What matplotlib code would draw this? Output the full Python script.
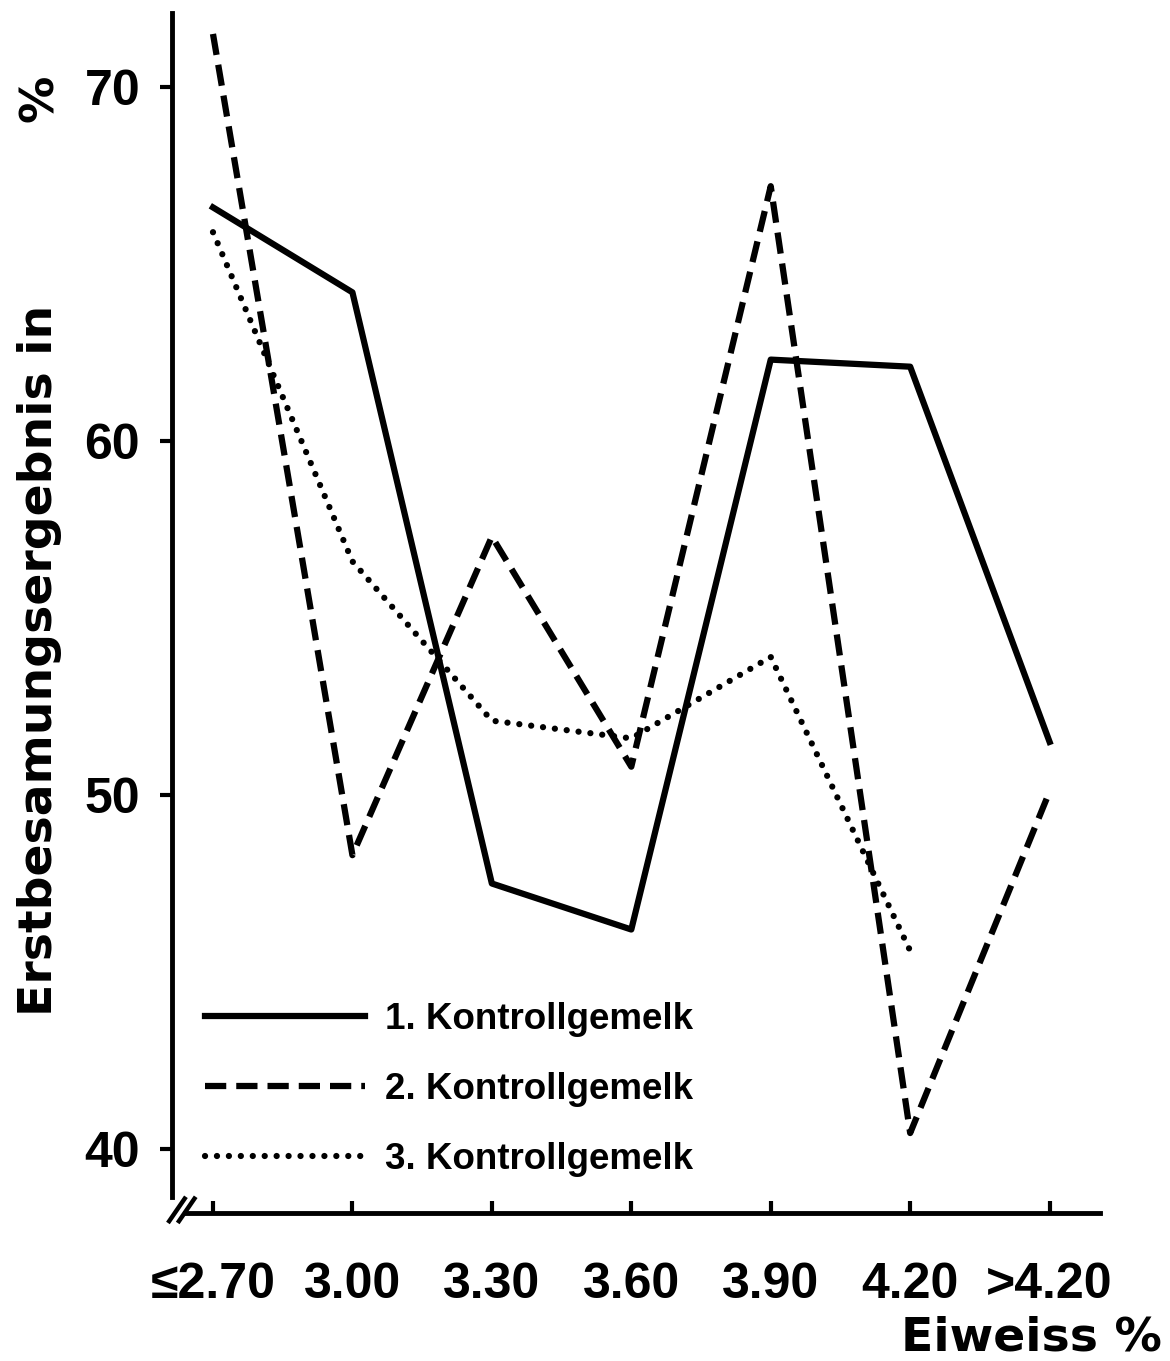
import matplotlib
matplotlib.use('Agg')
import matplotlib.pyplot as plt
from matplotlib.lines import Line2D

# Eiweiss classes and first-insemination results (%)
categories = ['≤2.70', '3.00', '3.30', '3.60', '3.90', '4.20', '>4.20']
kontroll_1 = [66.6, 64.2, 47.5, 46.2, 62.3, 62.1, 51.5]
kontroll_2 = [71.5, 48.3, 57.3, 50.8, 67.2, 40.45, 50.1]
kontroll_3 = [65.9, 56.6, 52.1, 51.6, 53.9, 45.6]
labels = ['1. Kontrollgemelk', '2. Kontrollgemelk', '3. Kontrollgemelk']
yticks = [40, 50, 60, 70]

FONT = 'Liberation Sans'
LW = 4.5
DASH = (0, (3.4, 1.6))
DOT = (0, (0.01, 1.9))

fig = plt.figure(figsize=(11.7, 13.61), dpi=100)
ax = fig.add_axes([0.147, 0.1087, 0.793, 0.8817])

x = list(range(len(categories)))
ax.plot(x, kontroll_1, color='black', lw=LW)
ax.plot(x, kontroll_2, color='black', lw=LW, linestyle=DASH)
ax.plot(x[:len(kontroll_3)], kontroll_3, color='black', lw=LW,
        linestyle=DOT, dash_capstyle='round')

ax.set_xlim(-0.294, 6.36)
ax.set_ylim(38.19, 72.09)

for side in ['top', 'right']:
    ax.spines[side].set_visible(False)
ax.spines['left'].set_linewidth(3.5)
ax.spines['bottom'].set_linewidth(3.5)
ax.spines['left'].set_bounds(38.65, 72.09)
ax.spines['bottom'].set_bounds(-0.2, 6.36)

ax.set_xticks(x)
ax.set_xticklabels(categories, fontsize=36, fontweight='bold', family=FONT)
ax.set_yticks(yticks)
ax.set_yticklabels([str(v) for v in yticks], fontsize=36, fontweight='bold', family=FONT)
ax.tick_params(axis='x', direction='in', length=9, width=3, pad=35)
ax.tick_params(axis='y', direction='out', length=9, width=3, pad=14)

# axis break marks at the corner
for off in (0.0, 0.07):
    ax.plot([-0.323 + off, -0.194 + off], [37.91, 38.65], color='black', lw=3.2,
            clip_on=False, solid_capstyle='butt')

# legend
handles = [
    Line2D([], [], color='black', lw=LW),
    Line2D([], [], color='black', lw=LW, linestyle=DASH),
    Line2D([], [], color='black', lw=LW, linestyle=DOT, dash_capstyle='round'),
]
ax.legend(handles, labels, loc='upper left', bbox_to_anchor=(0.0356, 0.1759),
          frameon=False, handlelength=4.35, handletextpad=0.55, labelspacing=0.95,
          borderpad=0, borderaxespad=0,
          prop={'family': FONT, 'weight': 'bold', 'size': 26.5})

fig.text(40 / 1170, 1 - 660 / 1361, 'Erstbesamungsergebnis in', rotation=90,
         ha='center', va='center', fontsize=34, fontweight='bold', family='DejaVu Sans')
fig.text(40 / 1170, 1 - 98 / 1361, '%', rotation=90,
         ha='center', va='center', fontsize=34, fontweight='bold', family='DejaVu Sans')
fig.text(1162 / 1170, 1 - 1338 / 1361, 'Eiweiss %', ha='right', va='center',
         fontsize=34, fontweight='bold', family='DejaVu Sans')

plt.savefig('out.png', dpi=100)
plt.close()
